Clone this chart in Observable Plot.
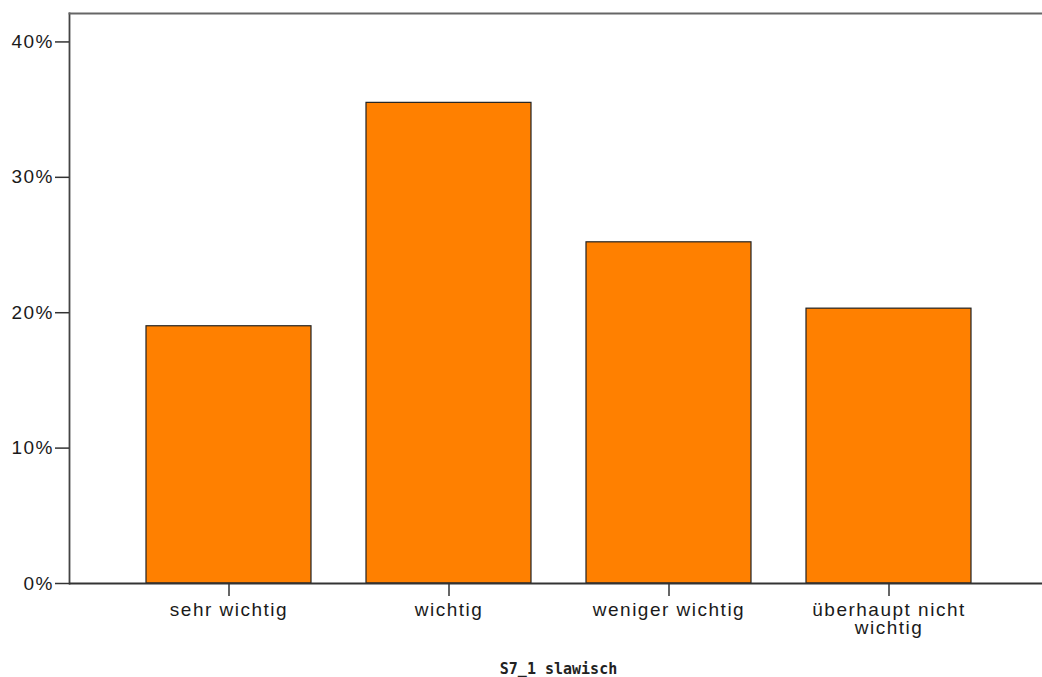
<!DOCTYPE html>
<html>
<head>
<meta charset="utf-8">
<script src="https://cdn.jsdelivr.net/npm/d3@7"></script>
<script src="https://cdn.jsdelivr.net/npm/@observablehq/plot@0.6"></script>
<style>
  html, body { margin: 0; padding: 0; background: #fff; overflow: hidden; }
  #chart svg { display: block; }
  #caption {
    font-family: "DejaVu Sans Mono", monospace;
    font-weight: bold;
    font-size: 15px;
    color: #222;
    text-align: center;
    padding-left: 75px;
    height: 27px;
    line-height: 38px;
    white-space: pre;
  }
</style>
</head>
<body>
<div id="chart"></div>
<div id="caption"></div>
<script>
// Data
const categories = ["sehr wichtig", "wichtig", "weniger wichtig", "überhaupt nicht wichtig"];
const categoryLabels = ["sehr wichtig", "wichtig", "weniger wichtig", "überhaupt nicht\nwichtig"];
const shares = [0.190, 0.355, 0.252, 0.203];
const yTicks = [0, 0.1, 0.2, 0.3, 0.4];
const yMax = 0.421;
const xTitle = "S7_1 slawisch";

const data = categories.map((c, i) => ({category: c, label: categoryLabels[i], value: shares[i]}));

const chart = Plot.plot({
  width: 1042,
  height: 650,
  marginLeft: 69,
  marginTop: 13,
  marginRight: 0,
  marginBottom: 67,
  style: {
    fontFamily: "'Liberation Sans', Arial, sans-serif",
    fontSize: "19px",
    letterSpacing: "1.5px",
    color: "#1a1a1a",
    background: "#fff"
  },
  x: {domain: categories, paddingInner: 0.25, paddingOuter: 0.333, align: 0.52},
  y: {domain: [0, yMax]},
  marks: [
    Plot.barY(data, {x: "category", y: "value", fill: "#ff8000", stroke: "#222", strokeWidth: 1.2}),
    Plot.frame({anchor: "left", stroke: "#444", strokeWidth: 1.8}),
    Plot.frame({anchor: "top", stroke: "#666", strokeWidth: 1.8}),
    Plot.ruleY([0], {stroke: "#333", strokeWidth: 1.8}),
    Plot.axisY({ticks: yTicks, tickFormat: d => Math.round(d * 100) + "%", tickSize: 14, tickPadding: 1.5, label: null, stroke: "#333", strokeWidth: 1.5}),
    Plot.axisX({tickSize: 13, tickFormat: () => "", label: null, stroke: "#333", strokeWidth: 1.5}),
    Plot.text(data, {x: "category", text: "label", frameAnchor: "bottom", lineAnchor: "top", dy: 20, lineHeight: 0.95, fill: "#1a1a1a"})
  ]
});
document.getElementById("chart").appendChild(chart);
document.getElementById("caption").textContent = xTitle;
</script>
</body>
</html>
